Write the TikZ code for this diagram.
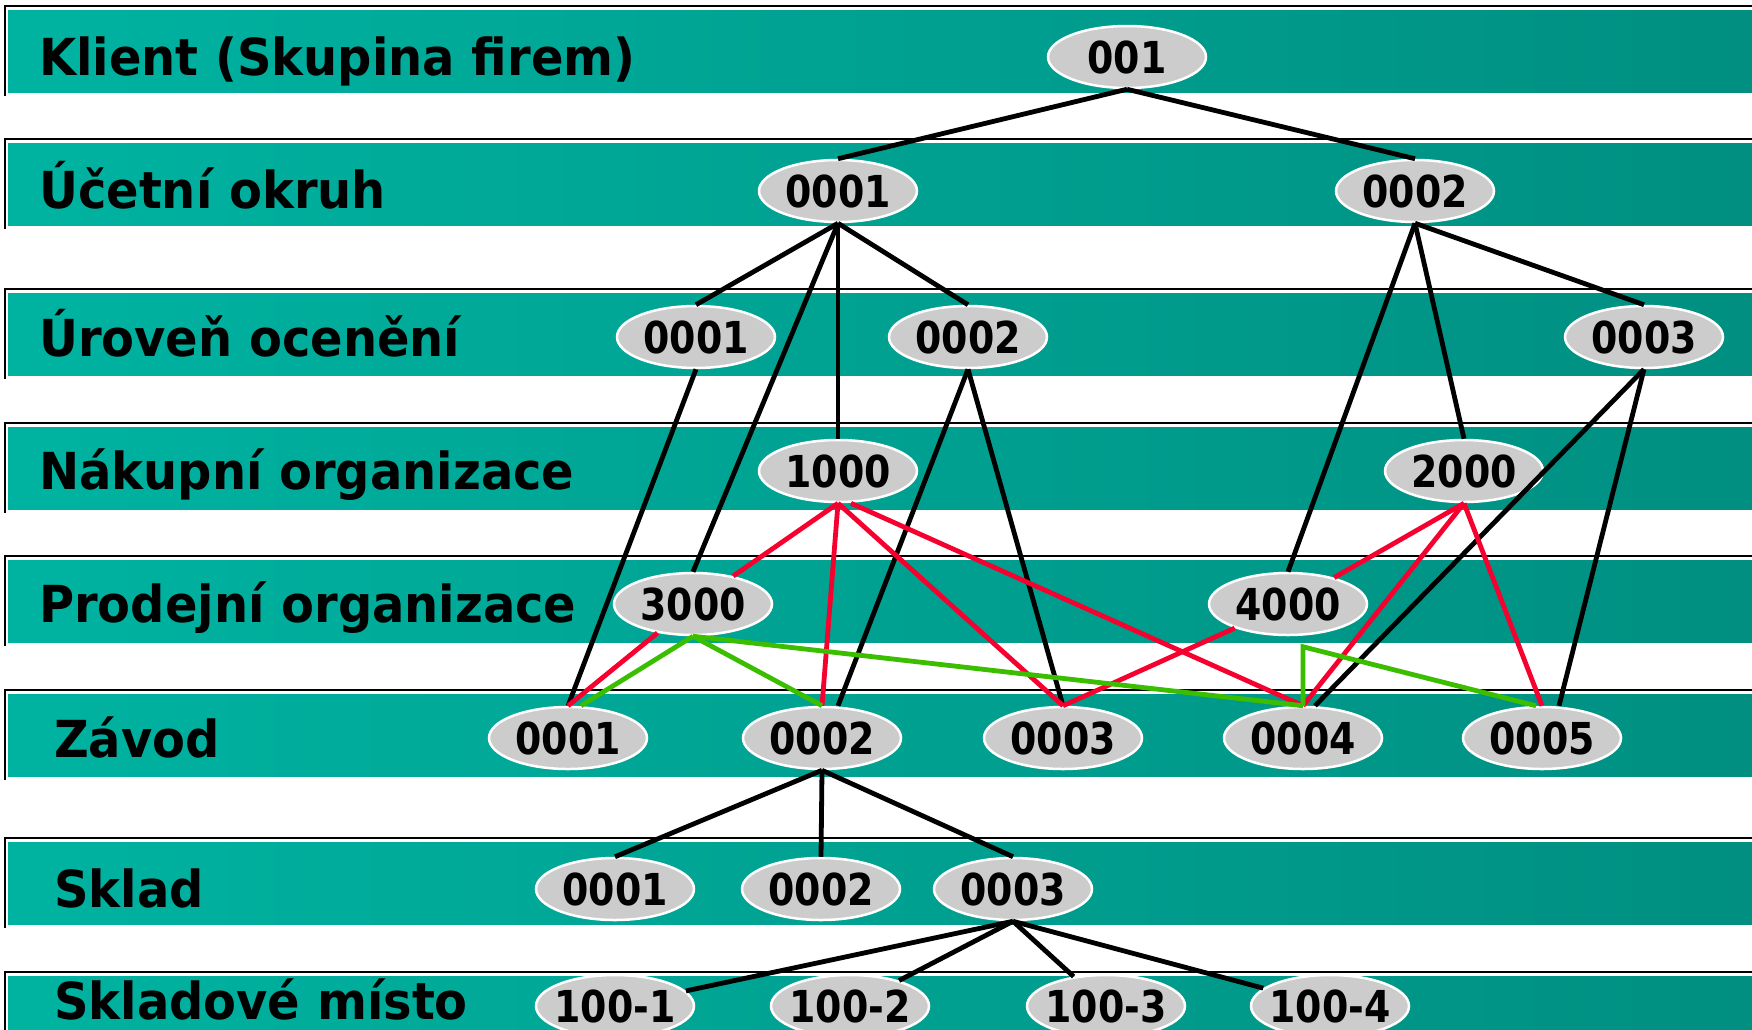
\documentclass[tikz,border=0pt]{standalone}
\usepackage{fontspec}
\setmainfont{DejaVu Sans}
\newfontfamily\lvlfont{DejaVu Sans Bold}[FakeStretch=0.94]
\newfontfamily\orgfont{DejaVu Sans Bold}[FakeStretch=0.86]
\usepackage{tikz}
\usetikzlibrary{shapes.geometric}

\definecolor{bandL}{HTML}{00B3A1}
\definecolor{bandR}{HTML}{008F81}
\definecolor{orgGray}{HTML}{CCCCCC}
\definecolor{linkRed}{HTML}{F5002F}
\definecolor{linkGreen}{HTML}{3CBE00}

\tikzset{
  band/.style={left color=bandL, right color=bandR},
  lvl/.style={anchor=base west, inner sep=0pt,
    font=\lvlfont\fontsize{51}{58}\selectfont},
  org/.style={ellipse, fill=orgGray, draw=white, line width=2.5pt,
    minimum width=158pt, minimum height=62pt, inner ysep=0pt, inner xsep=-15pt,
    font=\orgfont\fontsize{44}{50}\selectfont},
  tie/.style={line width=4.8pt},
  redtie/.style={tie, draw=linkRed},
  greentie/.style={tie, draw=linkGreen},
}

\begin{document}
\begin{tikzpicture}[x=1pt,y=-1pt]
      \clip (0,0) rectangle (1752,1029);
      % bands
      \foreach \t in {10,143,293,427,560,694,842,976}{
        \draw[line width=2.8pt] (5,\t+86) -- (5,\t-4) -- (1752,\t-4);
        \shade[band] (8,\t) rectangle (1752,\t+82);
      }
      % level names
      \node[lvl] (lKlient) at (39,75) {Klient (Skupina firem)};
      \node[lvl] (lOkruh) at (39,208) {Účetní okruh};
      \node[lvl] (lOceneni) at (39,356) {Úroveň ocenění};
      \node[lvl] (lNakup) at (39,489) {Nákupní organizace};
      \node[lvl] (lProdej) at (39,622) {Prodejní organizace};
      \node[lvl] (lZavod) at (54,757) {Závod};
      \node[lvl] (lSklad) at (54,907) {Sklad};
      \node[lvl] (lMisto) at (54,1019) {Skladové místo};
      % org units
      \node[org] (k001) at (1127,57) {001};
      \node[org] (uo1) at (838,191) {0001};
      \node[org] (uo2) at (1415,191) {0002};
      \node[org] (uc1) at (696,337) {0001};
      \node[org] (uc2) at (968,337) {0002};
      \node[org] (uc3) at (1644,337) {0003};
      \node[org] (no1000) at (838,471) {1000};
      \node[org] (no2000) at (1464,471) {2000};
      \node[org] (po3000) at (693,604) {3000};
      \node[org] (po4000) at (1288,604) {4000};
      \node[org] (z1) at (568,738) {0001};
      \node[org] (z2) at (822,738) {0002};
      \node[org] (z3) at (1063,738) {0003};
      \node[org] (z4) at (1303,738) {0004};
      \node[org] (z5) at (1542,738) {0005};
      \node[org] (s1) at (615,889) {0001};
      \node[org] (s2) at (821,889) {0002};
      \node[org] (s3) at (1013,889) {0003};
      \node[org] (m1) at (615,1006) {100-1};
      \node[org] (m2) at (850,1006) {100-2};
      \node[org] (m3) at (1106,1006) {100-3};
      \node[org] (m4) at (1330,1006) {100-4};
      % black links
      \foreach \a/\b in {k001/uo1, k001/uo2, uo1/uc1, uo1/uc2, uo1/no1000,
          uo1/po3000, uo2/uc3, uo2/no2000, uo2/po4000, uc1/z1, uc2/z3,
          z2/s1, z2/s2, z2/s3}
        \draw[tie] (\a.south) -- (\b.north);
      \draw[tie] (uc2.south) -- ([xshift=16pt]z2.north);
      \draw[tie] (uc3.south) -- ([xshift=12pt]z4.north);
      \draw[tie] (uc3.south) -- ([xshift=17pt]z5.north);
      \foreach \b in {m1,m2,m3,m4}
        \draw[tie] (s3.south) -- (\b);
      % red links
      \draw[redtie] (no1000.south) -- (po3000);
      \draw[redtie] (no1000.south) -- (z2.north);
      \draw[redtie] (no1000.south) -- (z3.north);
      \draw[redtie] ([xshift=13pt]no1000.south) -- (z4.north);
      \draw[redtie] (po3000) -- (z1.north);
      \draw[redtie] (no2000.south) -- (po4000);
      \draw[redtie] (no2000.south) -- (z4.north);
      \draw[redtie] (no2000.south) -- (z5.north);
      \draw[redtie] (po4000) -- (z3.north);
      % green links
      \draw[greentie] (po3000.south) -- ([xshift=13pt]z1.north);
      \draw[greentie] (po3000.south) -- (z2.north);
      \draw[greentie] (po3000.south) -- (z4.north);
      \coordinate (gbend) at ([yshift=59pt]z4.north);
      \draw[greentie] (z4.north) -- (gbend) -- ([xshift=-6pt]z5.north);
\end{tikzpicture}
\end{document}
